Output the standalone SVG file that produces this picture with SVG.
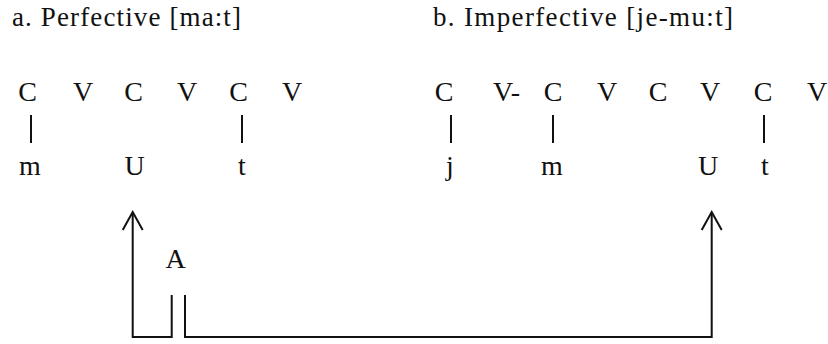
<svg xmlns="http://www.w3.org/2000/svg" width="828" height="344" viewBox="0 0 828 344">
<style>
.hd{font-family:"Liberation Serif","Times New Roman",serif;font-size:27px;fill:#111}
.sk{font-family:"Liberation Serif","Times New Roman",serif;font-size:28px;fill:#111;text-anchor:middle}
.assoc{stroke:#111;stroke-width:2;fill:none}
.conn{stroke:#111;stroke-width:2;fill:none;stroke-linejoin:miter}
.head{stroke:#111;stroke-width:2;fill:none}
</style>
<rect width="828" height="344" fill="#fff"/>
<g id="header-a"><text class="hd" x="12" y="26" textLength="229" lengthAdjust="spacing">a. Perfective [ma:t]</text></g>
<g id="header-b"><text class="hd" x="433" y="26" textLength="300" lengthAdjust="spacing">b. Imperfective [je-mu:t]</text></g>
<g id="skeleton-a">
<text class="sk" x="27.5" y="101">C</text>
<text class="sk" x="83" y="101">V</text>
<text class="sk" x="133.5" y="101">C</text>
<text class="sk" x="187" y="101">V</text>
<text class="sk" x="238.5" y="101">C</text>
<text class="sk" x="292" y="101">V</text>
</g>
<g id="skeleton-b">
<text class="sk" x="444" y="101">C</text>
<text class="sk" x="493" y="101" style="text-anchor:start">V-</text>
<text class="sk" x="553" y="101">C</text>
<text class="sk" x="607" y="101">V</text>
<text class="sk" x="658" y="101">C</text>
<text class="sk" x="710" y="101">V</text>
<text class="sk" x="763" y="101">C</text>
<text class="sk" x="817" y="101">V</text>
</g>
<g id="melody-a">
<text class="sk" x="30" y="175">m</text>
<text class="sk" x="134.5" y="175">U</text>
<text class="sk" x="242" y="175">t</text>
</g>
<g id="melody-b">
<text class="sk" x="450" y="175">j</text>
<text class="sk" x="552" y="175">m</text>
<text class="sk" x="708" y="175">U</text>
<text class="sk" x="765" y="175">t</text>
</g>
<g id="node-A"><text class="sk" x="175.5" y="268">A</text></g>
<g id="association-lines">
<line class="assoc" x1="31" y1="115" x2="31" y2="143"/>
<line class="assoc" x1="242" y1="115" x2="242" y2="143"/>
<line class="assoc" x1="451" y1="115" x2="451" y2="143"/>
<line class="assoc" x1="553" y1="115" x2="553" y2="143"/>
<line class="assoc" x1="764" y1="115" x2="764" y2="143"/>
</g>
<g id="connectors">
<path class="conn" d="M171.7,295 V337 H132.7 V213"/>
<polyline class="head" points="122.7,230 132.7,212 142.7,230"/>
<path class="conn" d="M185,295 V337 H711.7 V213"/>
<polyline class="head" points="701.7,230 711.7,212 721.7,230"/>
</g>
</svg>
